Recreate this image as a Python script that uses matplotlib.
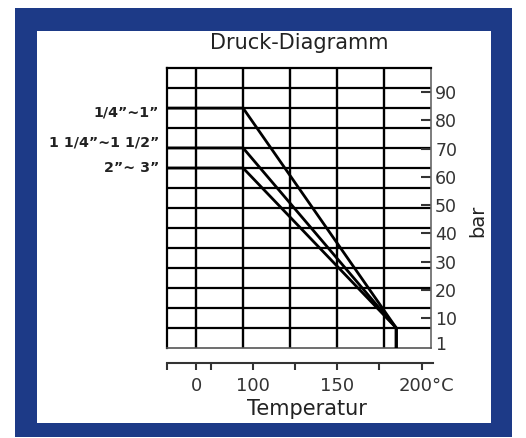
import matplotlib
matplotlib.use("Agg")
import matplotlib.pyplot as plt
from matplotlib.patches import Rectangle
from matplotlib.transforms import ScaledTranslation
import numpy as np

# ---- data ----
sizes = ['1/4”~1”', '1 1/4”~1 1/2”', '2”~ 3”']
p_max = [84.3, 70.2, 63.1]          # bar, flat part
t_start = -31                        # left edge of the diagram
t_break = 50                         # end of flat part
t_end = 213                          # convergence temperature
p_end = 6.5                          # bar at convergence
p_floor = -0.6                       # bottom of diagram

y_ticks = [90, 80, 70, 60, 50, 40, 30, 20, 10, 1]
y_labels = ['90', '80', '70', '60', '50', '40', '30', '20', '10', '1']
x_ticks = [-31, 0, 16, 60.6, 105, 150, 194.7, 240]
x_labels = ['', '0', '', '100', '', '150', '', '200°C']
v_grid = [0, 50, 100, 150, 200]

W, H = 526, 438
fig = plt.figure(figsize=(W / 100, H / 100), dpi=100)
fig.patch.set_facecolor('white')
blue = '#1d3a87'
fig.patches.append(Rectangle((15 / W, 1 - 437 / H), (512 - 15) / W, (437 - 8) / H,
                             transform=fig.transFigure, facecolor=blue, edgecolor='none', zorder=-5))
fig.patches.append(Rectangle((37 / W, 1 - 423 / H), (491 - 37) / W, (423 - 31) / H,
                             transform=fig.transFigure, facecolor='white', edgecolor='none', zorder=-4))

ax = fig.add_axes([167 / W, 1 - 348 / H, (431 - 167) / W, (348 - 68) / H])
ax.set_facecolor('none')
ax.set_xlim(t_start, 250)
ax.set_ylim(p_floor, 98.5)

for xv in v_grid:
    ax.axvline(xv, color='black', lw=1.7, zorder=1)
for yv in np.linspace(98.5, p_floor, 15)[1:-1]:
    ax.axhline(yv, color='black', lw=1.6, zorder=1)

for p in p_max:
    ax.plot([t_start, t_break, t_end, t_end], [p, p, p_end, p_floor],
            color='black', lw=2.0, zorder=3, solid_joinstyle='miter')

ax.spines['top'].set_color('black'); ax.spines['top'].set_linewidth(1.6)
ax.spines['left'].set_color('black'); ax.spines['left'].set_linewidth(1.6)
ax.spines['bottom'].set_color('#555555'); ax.spines['bottom'].set_linewidth(1.2)
ax.spines['right'].set_color('#666666'); ax.spines['right'].set_linewidth(1.2)

ax.set_xticks([])
ax.yaxis.tick_right()
ax.set_yticks(y_ticks)
ax.set_yticklabels(y_labels)
ax.tick_params(axis='y', direction='in', length=7, width=1.5, color='#333333',
               pad=3, labelsize=12.5, labelcolor='#333333')
ax.yaxis.get_major_ticks()[-1].tick2line.set_visible(False)

label_offsets = [-1.5, 1.8, 0.0]
for s, p, off in zip(sizes, p_max, label_offsets):
    ax.text(-0.03, p + off, s, transform=ax.get_yaxis_transform(), ha='right', va='center',
            fontsize=10.3, fontweight='bold', color='#222222')

ax.set_title('Druck-Diagramm', fontsize=15, color='#222222', pad=14)
fig.text(478 / W, 1 - 221 / H, 'bar', rotation=90, ha='center', va='center',
         fontsize=14, color='#222222')

axb = fig.add_axes([167 / W, 1 - 363 / H, (433 - 167) / W, 0.01])
axb.set_facecolor('none')
axb.set_xlim(t_start, 252)
axb.set_yticks([])
for sp in ['top', 'left', 'right']:
    axb.spines[sp].set_visible(False)
axb.spines['bottom'].set_color('#333333')
axb.spines['bottom'].set_linewidth(1.5)
axb.set_xticks(x_ticks)
axb.set_xticklabels(x_labels)
axb.tick_params(axis='x', direction='out', length=5, width=1.5, color='#333333',
                pad=5, labelsize=13, labelcolor='#333333')
lbl = axb.get_xticklabels()[-1]
lbl.set_transform(lbl.get_transform() + ScaledTranslation(5 / 100, 0, fig.dpi_scale_trans))
axb.set_xlabel('Temperatur', fontsize=15, color='#222222', labelpad=3, x=0.526, ha='center')

fig.savefig('out.png', dpi=100)
